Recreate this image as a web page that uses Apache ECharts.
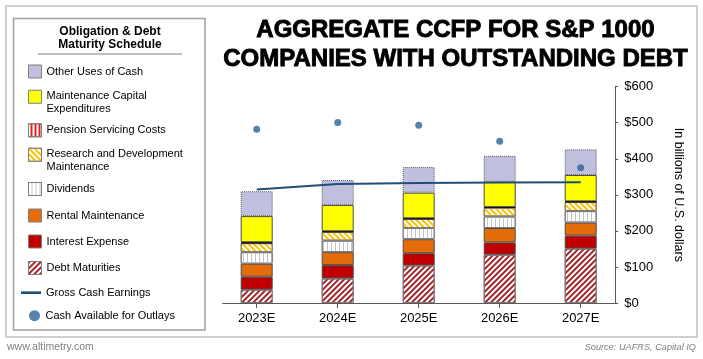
<!DOCTYPE html>
<html><head><meta charset="utf-8">
<script src="https://cdn.jsdelivr.net/npm/echarts@6/dist/echarts.min.js"></script>
<style>html,body{margin:0;padding:0;background:#fff}#c{width:703px;height:359px}</style>
</head><body><div id="c"></div>
<script>
// ---- data ----
const categories = ['2023E', '2024E', '2025E', '2026E', '2027E'];
const debtMaturities    = [37, 68, 104, 134, 151];
const interestExpense   = [36, 37, 34, 34, 36];
const rentalMaintenance = [36, 36, 39, 40, 36];
const dividends         = [32, 32, 31, 32, 32];
const rdMaintenance     = [25, 24, 25, 24, 25];
const pensionCosts      = [2.5, 2, 2, 2, 2];
const maintenanceCapex  = [72.5, 73, 71, 70, 73];
const otherUses         = [69, 69, 71, 72, 71];
const grossCashEarnings = [315, 330, 333, 334, 335];
const cashAvailable     = [482, 501, 493, 449, 375];
const yAxisMin = 0, yAxisMax = 600, yAxisStep = 100;

const FONT = "'Liberation Sans', Arial, sans-serif";
const BORDER = '#4a4a4a';

function stripe(color, thick, gap, rot) {
  return { symbol: 'rect', symbolSize: 1, color: color, dashArrayX: [1, 0], dashArrayY: [thick, gap], rotation: rot };
}

const barSeries = [
  { name: 'Debt Maturities', data: debtMaturities,
    itemStyle: { color: '#ffffff', borderColor: '#7a7a7a', borderWidth: 1, decal: stripe('#A3262A', 1.6, 1.6, -Math.PI / 4) } },
  { name: 'Interest Expense', data: interestExpense,
    itemStyle: { color: '#C00000', borderColor: BORDER, borderWidth: 1 } },
  { name: 'Rental Maintenance', data: rentalMaintenance,
    itemStyle: { color: '#E46C0A', borderColor: BORDER, borderWidth: 1 } },
  { name: 'Dividends', data: dividends,
    itemStyle: { color: '#ffffff', borderColor: '#7a7a7a', borderWidth: 1, decal: stripe('#C4C4C4', 0.8, 2.2, Math.PI / 2) } },
  { name: 'Research and Development Maintenance', data: rdMaintenance,
    itemStyle: { color: '#ffffff', borderColor: '#7a7a7a', borderWidth: 1, decal: stripe('#FFC000', 1.8, 1.4, Math.PI / 4) } },
  { name: 'Pension Servicing Costs', data: pensionCosts,
    itemStyle: { color: '#ffffff', borderColor: '#111', borderWidth: 1, decal: stripe('#E02020', 1.5, 1.5, Math.PI / 2) } },
  { name: 'Maintenance Capital Expenditures', data: maintenanceCapex,
    itemStyle: { color: '#FFFF00', borderColor: BORDER, borderWidth: 1 } },
  { name: 'Other Uses of Cash', data: otherUses,
    itemStyle: { color: '#C0C0DE', borderColor: '#555', borderWidth: 1, borderType: 'dotted' } }
].map(s => Object.assign({ type: 'bar', stack: 'uses', barWidth: 32, xAxisIndex: 0, yAxisIndex: 0, silent: true }, s));

// icon for two-line legend entries: square near the first line
const TALL_SQUARE = 'path://M0,0M0,1.5L13,1.5L13,14.5L0,14.5ZM13,27';

// legend layout: [name, iconLeft, top, itemWidth, itemHeight, icon, label, kind]
const legendLayout = [
  ['Other Uses of Cash', 28, 64.5, 13, 13, 'rect', 'Other Uses of Cash', 'box'],
  ['Maintenance Capital Expenditures', 28, 88.25, 13, 27, TALL_SQUARE, 'Maintenance Capital\nExpenditures', 'box'],
  ['Pension Servicing Costs', 28, 123.3, 13, 13, 'rect', 'Pension Servicing Costs', 'box'],
  ['Research and Development Maintenance', 28, 146.25, 13, 27, TALL_SQUARE, 'Research and Development\nMaintenance', 'box'],
  ['Dividends', 28, 182, 13, 13, 'rect', 'Dividends', 'box'],
  ['Rental Maintenance', 28, 208.5, 13, 13, 'rect', 'Rental Maintenance', 'box'],
  ['Interest Expense', 28, 234.5, 13, 13, 'rect', 'Interest Expense', 'box'],
  ['Debt Maturities', 28, 261, 13, 13, 'rect', 'Debt Maturities', 'box'],
  ['Gross Cash Earnings', 21, 287.2, 20, 2.6, 'rect', 'Gross Cash Earnings', 'plain'],
  ['Cash Available for Outlays', 29, 310.2, 12, 11, 'circle', 'Cash Available for Outlays', 'plain']
];
const legends = legendLayout.map(l => {
  const twoLine = l[6].indexOf('\n') >= 0;
  return {
    data: [{ name: l[0], icon: l[5] }], left: l[1], top: l[2], itemWidth: l[3], itemHeight: l[4], padding: 0, itemGap: 0,
    orient: 'vertical', selectedMode: false,
    formatter: () => l[6],
    itemStyle: l[7] === 'box'
      ? { borderColor: '#7F7F7F', borderWidth: 1, borderType: 'solid' }
      : { borderWidth: 0 },
    textStyle: Object.assign({ fontFamily: FONT, fontSize: 11, color: '#000' }, twoLine ? { lineHeight: 13.5 } : {})
  };
});

const chart = echarts.init(document.getElementById('c'), null, { renderer: 'canvas' });
chart.setOption({
  backgroundColor: '#ffffff',
  animation: false,
  title: [
    { text: 'AGGREGATE CCFP FOR S&P 1000\nCOMPANIES WITH OUTSTANDING DEBT', left: 455.5, top: 15.5, padding: 0, textAlign: 'center',
      textStyle: { fontFamily: FONT, fontSize: 24, fontWeight: 'bold', lineHeight: 29.5, color: '#000', textBorderColor: '#000', textBorderWidth: 0.9 } },
    { text: 'Obligation & Debt\nMaturity Schedule', left: 110, top: 24.5, padding: 0, textAlign: 'center',
      textStyle: { fontFamily: FONT, fontSize: 12, fontWeight: 'bold', lineHeight: 13.5, color: '#000' } },
    { text: 'www.altimetry.com', left: 7, top: 341.5, padding: 0,
      textStyle: { fontFamily: FONT, fontSize: 10.5, fontWeight: 'normal', color: '#808080' } },
    { text: 'Source: UAFRS, Capital IQ', left: 696, top: 342.5, padding: 0, textAlign: 'right',
      textStyle: { fontFamily: FONT, fontSize: 9.2, fontStyle: 'italic', fontWeight: 'normal', color: '#808080' } }
  ],
  legend: legends,
  graphic: [
    { type: 'rect', shape: { x: 6, y: 6, width: 691, height: 331 }, style: { fill: 'none', stroke: '#CFCFCF', lineWidth: 2 }, silent: true, z: -1 },
    { type: 'rect', shape: { x: 13.5, y: 18.5, width: 191.5, height: 311.5 }, style: { fill: 'none', stroke: '#A0A0A0', lineWidth: 1.5 }, silent: true },
    { type: 'line', shape: { x1: 38, y1: 54, x2: 182, y2: 54 }, style: { stroke: '#7F7F7F', lineWidth: 1 }, silent: true }
  ],
  grid: [
    { left: 216.2, right: 81.8, top: 86.7, height: 216.3, containLabel: false },
    { left: 222.7, right: 88, top: 86.7, height: 216.3, containLabel: false }
  ],
  xAxis: [
    { type: 'category', gridIndex: 0, data: categories,
      axisLine: { show: false },
      axisTick: { show: true, alignWithLabel: true, length: 5, lineStyle: { color: '#595959' } },
      axisLabel: { fontFamily: FONT, fontSize: 13, color: '#000', margin: 9 } },
    { type: 'category', gridIndex: 1, data: categories,
      axisLine: { show: true, lineStyle: { color: '#595959', width: 1 } },
      axisTick: { show: false }, axisLabel: { show: false } }
  ],
  yAxis: [
    { type: 'value', gridIndex: 0, position: 'right', offset: -6, min: yAxisMin, max: yAxisMax, interval: yAxisStep,
      axisLine: { show: true, lineStyle: { color: '#595959', width: 1 } },
      axisTick: { show: true, length: 3, lineStyle: { color: '#595959' } },
      splitLine: { show: false },
      axisLabel: { fontFamily: FONT, fontSize: 13, color: '#000', margin: 9, formatter: v => '$' + v },
      name: 'In billions of U.S. dollars', nameLocation: 'middle', nameRotate: -90, nameGap: 57,
      nameTextStyle: { fontFamily: FONT, fontSize: 12.5, color: '#000' } },
    { type: 'value', gridIndex: 1, min: yAxisMin, max: yAxisMax, show: false }
  ],
  series: barSeries.concat([
    { name: 'Gross Cash Earnings', type: 'line', data: grossCashEarnings, xAxisIndex: 0, yAxisIndex: 0,
      symbol: 'none', showSymbol: false, z: 5, silent: true,
      lineStyle: { color: '#1F4E79', width: 2 }, itemStyle: { color: '#1F4E79' } },
    { name: 'Cash Available for Outlays', type: 'scatter', data: cashAvailable, xAxisIndex: 0, yAxisIndex: 0,
      symbol: 'circle', symbolSize: 7, z: 6, silent: true,
      itemStyle: { color: '#2A6496' } }
  ])
});
</script></body></html>
